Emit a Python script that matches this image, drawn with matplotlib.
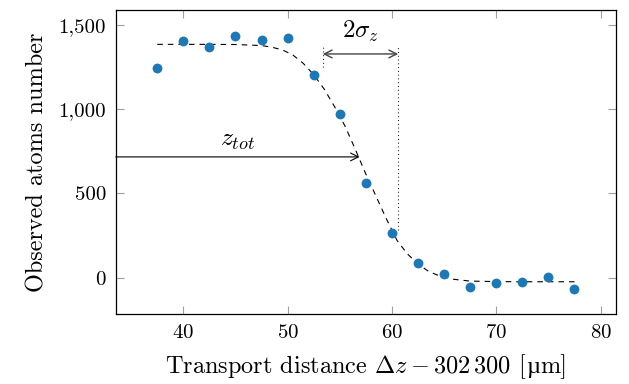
import matplotlib
matplotlib.use("Agg")
import matplotlib.pyplot as plt
from matplotlib.ticker import FuncFormatter
from matplotlib.offsetbox import TextArea, HPacker, AnchoredOffsetbox

plt.rcParams['font.family'] = ['cmr10', 'DejaVu Serif']
plt.rcParams['mathtext.fontset'] = 'cm'
plt.rcParams['axes.formatter.use_mathtext'] = True

# measured atom numbers
dist = [37.5, 40, 42.5, 45, 47.5, 50, 52.5, 55, 57.5, 60,
        62.5, 65, 67.5, 70, 72.5, 75, 77.5]
atoms = [1243, 1405, 1372, 1437, 1410, 1425, 1205, 970, 564, 267,
         89, 20, -53, -30, -26, 2, -67]

# fitted curve
fit_x = [37.5, 40, 42.5, 45, 47.5, 48.5, 49.5, 50.5, 51.5, 52.5, 53.5, 54.5,
         55.5, 56.5, 57.5, 58.5, 59.5, 60.5, 61.5, 62.5, 63.5, 64.5, 66,
         67.5, 70, 72.5, 75, 77.5]
fit_y = [1385, 1385, 1385, 1384, 1378, 1368, 1352, 1322, 1272, 1205, 1120, 1015,
         900, 760, 615, 480, 345, 220, 140, 82, 38, 12, -10,
         -20, -23, -24, -24, -24]

z_tot = 56.9
z_tot_y = 717
sig_lo, sig_hi = 53.37, 60.6
sig_y = 1328

fig = plt.figure(figsize=(6.29, 3.84), dpi=100)
ax = fig.add_axes([0.184, 0.182, 0.795, 0.792])

ax.plot(fit_x, fit_y, color="black", lw=0.8, dashes=(5, 4.5))
ax.scatter(dist, atoms, s=50, color="#1f77b4", zorder=3, linewidths=0)

ax.set_xlim(33.52, 81.46)
ax.set_ylim(-216, 1589)

# z_tot arrow
ax.annotate("", xy=(z_tot, z_tot_y), xytext=(33.52, z_tot_y),
            arrowprops=dict(arrowstyle="->", color="black", lw=0.8,
                            shrinkA=0, shrinkB=0, mutation_scale=14))
ax.text(45.2, 818, r"$z_{tot}$", fontsize=18.5, ha="center", va="center")

# 2 sigma arrow
ax.plot([sig_lo, sig_lo], [1250, 1382], color="black", lw=0.8, ls=(0, (0.8, 2.6)))
ax.plot([sig_hi, sig_hi], [285, 1382], color="black", lw=0.8, ls=(0, (0.8, 2.6)))
ax.annotate("", xy=(sig_hi, sig_y), xytext=(sig_lo, sig_y),
            arrowprops=dict(arrowstyle="<->", color="#444444", lw=1.0,
                            shrinkA=0, shrinkB=0, mutation_scale=14))
ax.text((sig_lo + sig_hi) / 2, 1465, r"$2\sigma_z$", fontsize=18,
        ha="center", va="center")

ax.set_xticks([40, 50, 60, 70, 80])
ax.set_yticks([0, 500, 1000, 1500])
ax.yaxis.set_major_formatter(FuncFormatter(lambda v, p: "{:,}".format(int(v))))
ax.tick_params(direction="in", length=6, width=0.8, color="#a0a0a0",
               top=True, right=True, labelsize=15, pad=7)
for s in ax.spines.values():
    s.set_linewidth(0.9)

# x label pieced together so the micro sign comes from a font that has it
lab = dict(fontsize=17.5)
parts = [TextArea(r"Transport distance $\Delta z - 302\,300$ [", textprops=dict(lab, family=['cmr10'])),
         TextArea("\u00b5", textprops=dict(lab, family=['Liberation Serif'])),
         TextArea("m]", textprops=dict(lab, family=['cmr10']))]
xlab = AnchoredOffsetbox(loc="upper center", child=HPacker(children=parts, align="baseline", pad=0, sep=0),
                         pad=0, borderpad=0, frameon=False,
                         bbox_to_anchor=(0.5, -0.125), bbox_transform=ax.transAxes)
ax.add_artist(xlab)
ax.set_ylabel("Observed atoms number", fontsize=17.5, labelpad=7)

fig.savefig("out.png", dpi=100)
